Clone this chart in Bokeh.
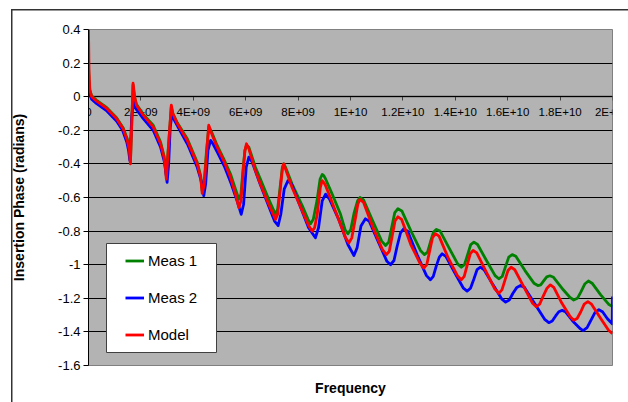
from bokeh.plotting import figure
from bokeh.models import FixedTicker, BoxAnnotation, LinearAxis
from bokeh.embed import file_html
from bokeh.resources import INLINE

# ---------------- data (frequency in GHz, phase in radians) ----------------
x_ticks = [0, 2e9, 4e9, 6e9, 8e9, 1e10, 1.2e10, 1.4e10, 1.6e10, 1.8e10, 2e10]
x_tick_labels = ["0", "2E+09", "4E+09", "6E+09", "8E+09", "1E+10", "1.2E+10",
                 "1.4E+10", "1.6E+10", "1.8E+10", "2E+10"]
y_ticks = [0.4, 0.2, 0.0, -0.2, -0.4, -0.6, -0.8, -1.0, -1.2, -1.4, -1.6]
y_tick_labels = ["0.4", "0.2", "0", "-0.2", "-0.4", "-0.6", "-0.8", "-1", "-1.2", "-1.4", "-1.6"]

meas1_f = [0.00, 0.02, 0.05, 0.12, 0.30, 0.70, 1.07, 1.32, 1.48, 1.56, 1.60,
           1.70, 1.76, 1.83, 2.09, 2.47, 2.75, 2.88, 2.94, 2.97,
           3.16, 3.22, 3.39, 3.77, 4.15, 4.28, 4.34, 4.42, 4.50,
           4.59, 4.70, 4.91, 5.16, 5.42, 5.61, 5.74, 5.82, 5.90, 5.97,
           6.03, 6.12, 6.37, 6.56, 6.85, 7.05, 7.14, 7.22, 7.32, 7.40,
           7.45, 7.52, 7.77, 8.16, 8.38, 8.47, 8.58, 8.72, 8.84,
           8.92, 8.98, 9.05, 9.30, 9.62, 9.79, 9.90, 10.01, 10.14, 10.27,
           10.36, 10.50, 10.85, 11.19, 11.34, 11.46, 11.57, 11.69,
           11.81, 11.96, 12.31, 12.67, 12.82, 12.94, 13.05, 13.17,
           13.28, 13.42, 13.76, 14.09, 14.23, 14.35, 14.47, 14.59,
           14.71, 14.85, 15.19, 15.52, 15.66, 15.79, 15.92, 16.04,
           16.17, 16.31, 16.66, 17.00, 17.15, 17.26, 17.38, 17.49,
           17.61, 17.75, 18.07, 18.38, 18.52, 18.66, 18.80, 18.94,
           19.08, 19.22, 19.55, 19.85, 20.00]
meas1_v = [0.19, 0.10, 0.04, 0.005, -0.02, -0.065, -0.125, -0.185, -0.25, -0.31, -0.39,
           0.07, -0.005, -0.045, -0.105, -0.17, -0.27, -0.35, -0.42, -0.47,
           -0.06, -0.10, -0.155, -0.25, -0.39, -0.47, -0.56, -0.50, -0.33,
           -0.18, -0.21, -0.29, -0.37, -0.46, -0.55, -0.61, -0.58, -0.43, -0.32,
           -0.29, -0.30, -0.42, -0.49, -0.60, -0.67, -0.70, -0.67, -0.53, -0.42,
           -0.40, -0.42, -0.52, -0.65, -0.73, -0.757, -0.73, -0.62, -0.49,
           -0.463, -0.47, -0.49, -0.58, -0.70, -0.79, -0.816, -0.79, -0.69, -0.62,
           -0.60, -0.615, -0.74, -0.86, -0.886, -0.865, -0.78, -0.69,
           -0.667, -0.68, -0.80, -0.915, -0.94, -0.925, -0.865, -0.805,
           -0.79, -0.80, -0.90, -0.995, -1.015, -1.00, -0.94, -0.88,
           -0.866, -0.88, -0.975, -1.065, -1.084, -1.07, -1.01, -0.955,
           -0.94, -0.95, -1.035, -1.11, -1.124, -1.12, -1.095, -1.072,
           -1.066, -1.075, -1.14, -1.195, -1.21, -1.20, -1.16, -1.115,
           -1.097, -1.11, -1.18, -1.235, -1.249]

meas2_f = [0.00, 0.02, 0.05, 0.12, 0.30, 0.70, 1.07, 1.30, 1.46, 1.53, 1.58,
           1.65, 1.72, 1.80, 2.09, 2.47, 2.75, 2.90, 2.96, 3.00,
           3.06, 3.12, 3.19, 3.28, 3.45, 3.80, 4.15, 4.30, 4.40,
           4.47, 4.56, 4.66, 4.75, 4.95, 5.20, 5.45, 5.65, 5.83,
           5.92, 6.02, 6.12, 6.25, 6.55, 6.85, 7.10, 7.24,
           7.34, 7.47, 7.61, 7.75, 8.05, 8.40, 8.66,
           8.78, 8.92, 9.05, 9.20, 9.55, 9.90, 10.13,
           10.25, 10.40, 10.57, 10.71, 11.05, 11.39, 11.53,
           11.66, 11.78, 11.91, 12.03, 12.18, 12.54, 12.90, 13.05,
           13.16, 13.27, 13.39, 13.50, 13.64, 13.97, 14.31, 14.45,
           14.58, 14.71, 14.83, 14.96, 15.10, 15.44, 15.78, 15.92,
           16.06, 16.20, 16.35, 16.49, 16.64, 17.02, 17.41, 17.57,
           17.70, 17.83, 17.95, 18.08, 18.20, 18.48, 18.76, 18.88,
           19.03, 19.18, 19.33, 19.48, 19.62, 19.80, 19.99, 20.00]
meas2_v = [0.08, 0.04, 0.015, -0.015, -0.04, -0.085, -0.145, -0.20, -0.27, -0.32, -0.38,
           -0.12, -0.02, -0.07, -0.13, -0.20, -0.30, -0.39, -0.46, -0.51,
           -0.40, -0.18, -0.10, -0.14, -0.19, -0.29, -0.42, -0.50, -0.59,
           -0.52, -0.32, -0.26, -0.28, -0.34, -0.42, -0.52, -0.61, -0.70,
           -0.64, -0.42, -0.36, -0.39, -0.52, -0.64, -0.74, -0.767,
           -0.70, -0.55, -0.50, -0.52, -0.64, -0.78, -0.84,
           -0.78, -0.62, -0.58, -0.61, -0.73, -0.88, -0.945,
           -0.90, -0.77, -0.727, -0.74, -0.86, -0.98, -1.00,
           -0.975, -0.89, -0.81, -0.786, -0.80, -0.94, -1.065, -1.09,
           -1.07, -1.01, -0.955, -0.935, -0.95, -1.045, -1.14, -1.157,
           -1.14, -1.085, -1.03, -1.015, -1.03, -1.12, -1.205, -1.223,
           -1.21, -1.17, -1.135, -1.124, -1.135, -1.23, -1.325, -1.345,
           -1.335, -1.305, -1.28, -1.272, -1.28, -1.335, -1.38, -1.392,
           -1.375, -1.33, -1.285, -1.268, -1.28, -1.32, -1.352, -1.19]

model_f = [0.00, 0.02, 0.05, 0.12, 0.30, 0.70, 1.07, 1.32, 1.48, 1.56, 1.60,
           1.70, 1.76, 1.83, 2.09, 2.47, 2.75, 2.88, 2.94, 2.97,
           3.16, 3.22, 3.39, 3.77, 4.15, 4.28, 4.34, 4.42, 4.50,
           4.59, 4.70, 4.91, 5.16, 5.42, 5.61, 5.74, 5.82, 5.90, 5.97,
           6.03, 6.12, 6.37, 6.56, 6.85, 7.05, 7.14, 7.22, 7.32, 7.40,
           7.45, 7.52, 7.77, 8.16, 8.41, 8.54, 8.63, 8.73, 8.85,
           8.92, 8.98, 9.05, 9.30, 9.62, 9.81, 9.94, 10.05, 10.17, 10.28,
           10.36, 10.50, 10.86, 11.22, 11.37, 11.48, 11.59, 11.70,
           11.81, 11.95, 12.30, 12.65, 12.80, 12.91, 13.02, 13.13,
           13.24, 13.38, 13.73, 14.08, 14.23, 14.34, 14.46, 14.57,
           14.68, 14.82, 15.17, 15.51, 15.66, 15.78, 15.90, 16.01,
           16.13, 16.27, 16.61, 16.95, 17.09, 17.22, 17.36, 17.50,
           17.63, 17.76, 18.07, 18.39, 18.52, 18.65, 18.79, 18.92,
           19.06, 19.20, 19.55, 19.85, 20.00]
model_v = [0.40, 0.15, 0.04, 0.00, -0.025, -0.07, -0.13, -0.19, -0.26, -0.32, -0.40,
           0.08, 0.00, -0.05, -0.11, -0.18, -0.28, -0.36, -0.43, -0.49,
           -0.05, -0.10, -0.16, -0.26, -0.40, -0.48, -0.575, -0.52, -0.35,
           -0.17, -0.22, -0.30, -0.38, -0.48, -0.58, -0.66, -0.62, -0.45, -0.32,
           -0.28, -0.31, -0.44, -0.52, -0.63, -0.70, -0.73, -0.70, -0.55, -0.43,
           -0.40, -0.43, -0.54, -0.68, -0.77, -0.80, -0.78, -0.70, -0.54,
           -0.50, -0.51, -0.53, -0.63, -0.76, -0.84, -0.87, -0.84, -0.74, -0.64,
           -0.61, -0.63, -0.78, -0.91, -0.94, -0.92, -0.83, -0.74,
           -0.715, -0.73, -0.88, -0.99, -1.02, -1.00, -0.92, -0.84,
           -0.815, -0.83, -0.96, -1.065, -1.09, -1.07, -1.00, -0.935,
           -0.915, -0.93, -1.04, -1.145, -1.17, -1.15, -1.09, -1.035,
           -1.015, -1.03, -1.13, -1.23, -1.25, -1.235, -1.185, -1.14,
           -1.12, -1.135, -1.23, -1.31, -1.33, -1.32, -1.28, -1.235,
           -1.22, -1.235, -1.32, -1.39, -1.41]

series_names = ["Meas 1", "Meas 2", "Model"]
series_colors = ["#008000", "#0000FF", "#FF0000"]

FONT = "Liberation Sans"

p = figure(width=628, height=402, output_backend="svg", toolbar_location=None,
           x_range=(0, 2e10), y_range=(-1.6, 0.4),
           min_border_left=88, min_border_right=16, min_border_top=29, min_border_bottom=37)
p.background_fill_color = "#B3B3B3"
p.border_fill_color = None
# outer chart border (top and left edges visible in the crop)
p.styles = {
    "background": "linear-gradient(#333333, #333333) 11px 9px / 100% 1.5px no-repeat, "
                  "linear-gradient(#333333, #333333) 11px 9px / 1.5px 100% no-repeat, white"
}
p.outline_line_color = "#808080"
p.outline_line_width = 1

p.xgrid.visible = False
p.ygrid.ticker = FixedTicker(ticks=y_ticks)
p.ygrid.grid_line_color = "black"
p.ygrid.grid_line_width = 1

# y axis
yax = p.yaxis[0]
yax.ticker = FixedTicker(ticks=y_ticks)
yax.major_label_overrides = dict(zip(y_ticks, y_tick_labels))
yax.axis_line_color = "black"
yax.major_tick_line_color = "black"
yax.major_tick_out = 5
yax.major_tick_in = 0
yax.minor_tick_line_color = None
yax.major_label_text_font = FONT
yax.major_label_text_font_size = "13px"
yax.major_label_text_color = "black"
yax.major_label_standoff = 3
yax.axis_label = "Insertion Phase (radians)"
yax.axis_label_text_font = FONT
yax.axis_label_text_font_style = "bold"
yax.axis_label_text_font_size = "14px"
yax.axis_label_text_color = "black"
yax.axis_label_standoff = 28

# x axis crossing at y = 0
xax = p.xaxis[0]
xax.fixed_location = 0
xax.ticker = FixedTicker(ticks=x_ticks)
xax.major_label_overrides = dict(zip(x_ticks, x_tick_labels))
xax.axis_line_color = "#404040"
xax.axis_line_width = 1.5
xax.major_tick_line_color = "#404040"
xax.major_tick_out = 4
xax.major_tick_in = 0
xax.minor_tick_line_color = None
xax.major_label_text_font = FONT
xax.major_label_text_font_size = "11.5px"
xax.major_label_text_color = "black"
xax.major_label_standoff = 5
xax.level = "underlay"

# axis carrying only the "Frequency" title at the bottom
xtitle = LinearAxis(ticker=FixedTicker(ticks=[]), axis_label="Frequency",
                    axis_line_color=None, major_tick_line_color=None,
                    minor_tick_line_color=None, major_tick_out=0, major_tick_in=0,
                    major_label_standoff=0, axis_label_standoff=14,
                    axis_label_text_font=FONT, axis_label_text_font_style="bold",
                    axis_label_text_font_size="14px", axis_label_text_color="black")
p.add_layout(xtitle, "below")

# legend box
p.add_layout(BoxAnnotation(left=18, right=128, top=122, bottom=13,
                           left_units="screen", right_units="screen",
                           top_units="screen", bottom_units="screen",
                           fill_color="white", fill_alpha=1,
                           line_color="#404040", line_alpha=1, line_width=1))

for fs, vs, name, col in zip([meas1_f, meas2_f, model_f], [meas1_v, meas2_v, model_v],
                             series_names, series_colors):
    p.line(x=[f * 1e9 for f in fs], y=vs, line_color=col, line_width=2.8,
           line_join="round", legend_label=name)

leg = p.legend[0]
leg.location = (37, 22)
leg.padding = 0
leg.margin = 0
leg.spacing = 20
leg.label_height = 17
leg.glyph_height = 17
leg.glyph_width = 19
leg.label_standoff = 4
leg.background_fill_alpha = 0
leg.border_line_alpha = 0
leg.label_text_font = FONT
leg.label_text_font_size = "15px"
leg.label_text_color = "black"

open("out.html", "w").write(file_html(p, INLINE))
